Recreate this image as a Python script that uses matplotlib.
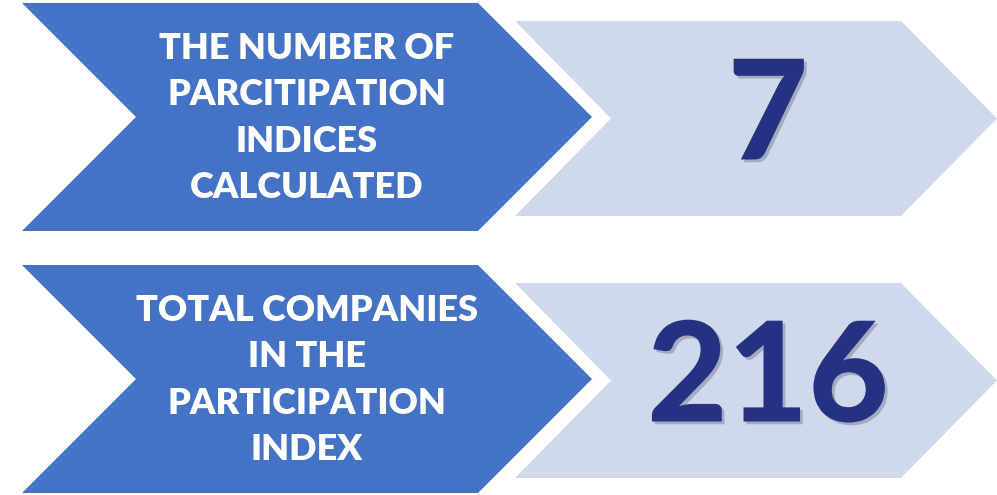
import matplotlib.pyplot as plt
from matplotlib.patches import Polygon
import matplotlib.patheffects as pe

# data
labels = ["THE NUMBER OF\nPARCITIPATION\nINDICES\nCALCULATED",
          "TOTAL COMPANIES\nIN THE\nPARTICIPATION\nINDEX"]
values = ["7", "216"]

blue = "#4472C4"
light = "#D0D8EB"
navy = "#243281"

fig = plt.figure(figsize=(9.97, 4.95), dpi=100)
ax = fig.add_axes([0, 0, 1, 1])
ax.set_xlim(0, 997)
ax.set_ylim(495, 0)
ax.axis('off')


def chevron(x0, x1, depth, y0, y1, color):
    ym = (y0 + y1) / 2
    pts = [(x0, y0), (x1, y0), (x1 + depth, ym), (x1, y1), (x0, y1), (x0 + depth, ym)]
    ax.add_patch(Polygon(pts, closed=True, facecolor=color, edgecolor='none'))


row_top = [3, 265]
for i, (lab, val) in enumerate(zip(labels, values)):
    y0 = row_top[i]
    chevron(515, 901, 96, y0 + 18, y0 + 213, light)
    chevron(22, 478, 114, y0, y0 + 228, blue)
    ym = y0 + 114
    ax.text(307, ym + 1, lab, ha='center', va='center', color='white',
            fontsize=26, fontweight='heavy', family='Lato', linespacing=1.5)
    ax.text(768, ym + 2, val, ha='center', va='center', color=navy,
            fontsize=100, fontweight='black', family='Lato',
            path_effects=[pe.SimplePatchShadow(offset=(2, -2), shadow_rgbFace='#7a7f99', alpha=0.5),
                          pe.Normal()])

fig.savefig("out.png", dpi=100)
